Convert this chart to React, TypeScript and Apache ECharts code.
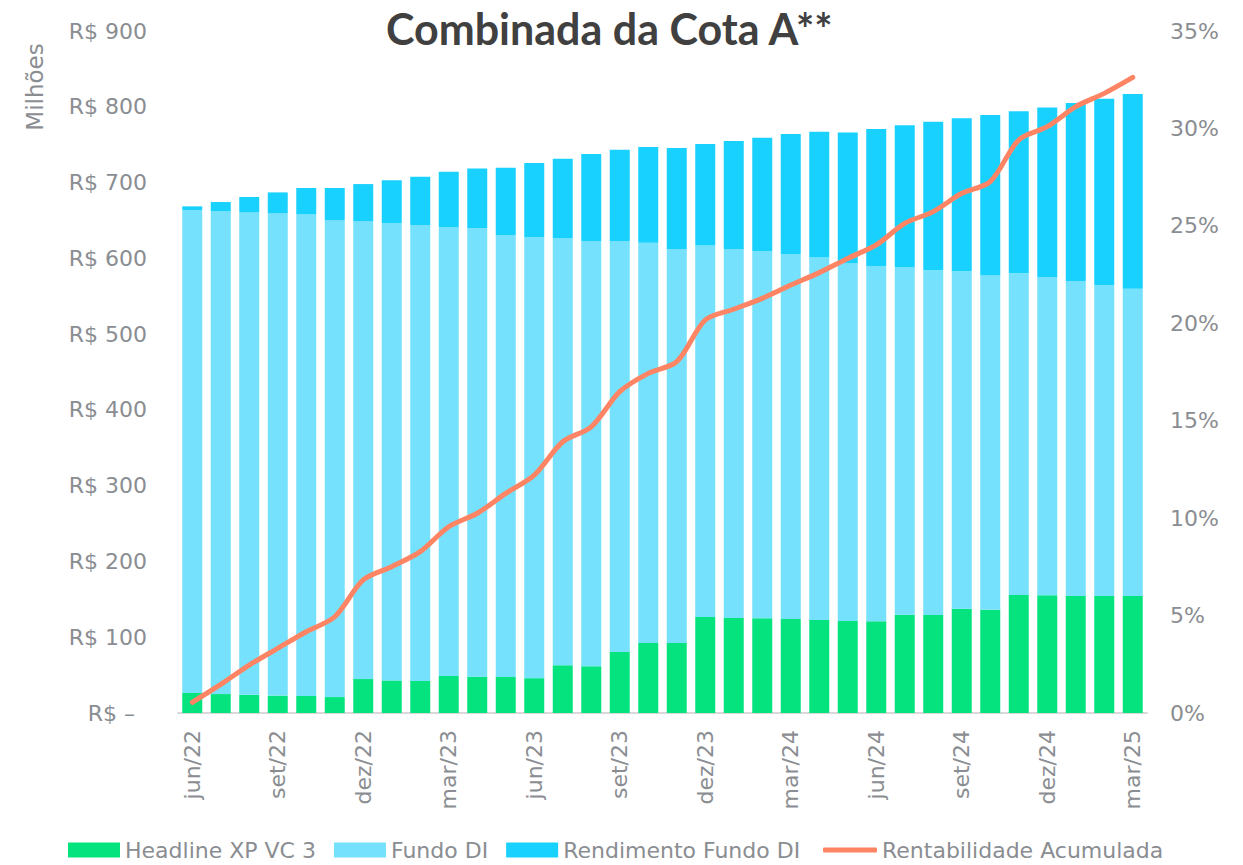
import React, { useEffect, useRef } from "react";
import * as echarts from "echarts";

const categories = [
  "jun/22", "jul/22", "ago/22", "set/22", "out/22", "nov/22", "dez/22",
  "jan/23", "fev/23", "mar/23", "abr/23", "mai/23", "jun/23", "jul/23", "ago/23", "set/23", "out/23", "nov/23", "dez/23",
  "jan/24", "fev/24", "mar/24", "abr/24", "mai/24", "jun/24", "jul/24", "ago/24", "set/24", "out/24", "nov/24", "dez/24",
  "jan/25", "fev/25", "mar/25",
];

const headline = [
  26.4, 25, 24, 23, 22.4, 21, 44.8, 43, 42.2, 48.8, 48, 47.5, 46, 63, 61.6, 80.5, 92.4, 92.4,
  126.7, 125.4, 125, 124, 122.7, 121.4, 121, 129.7, 129.3, 137.6, 136.3, 155.7, 155.3, 154.4, 154.4, 154.4,
];

const fundoDI = [
  637.4, 637.4, 637, 636.7, 636, 629.5, 604.4, 603.6, 601.8, 592.5, 591.6, 583.3, 581.7, 563.8, 561.3, 542.4,
  528.2, 519.9, 490.4, 486.9, 484.2, 481.7, 478.3, 472.4, 468.9, 458.8, 454.9, 445.2, 441.2, 424.5, 420, 415.6,
  410, 405.6,
];

const rendimentoDI = [
  4.8, 11.9, 20, 27.3, 34.4, 42.3, 48.8, 56.4, 63.7, 73, 79.1, 88.8, 98.1, 104.7, 114.8, 120.5, 126.3, 133.3,
  133.8, 142.5, 150, 158.3, 166, 172.4, 180.8, 187, 196.1, 201.9, 211.7, 213.8, 223.6, 235, 246.3, 256.9,
];

const rentabilidade = [
  0.55, 1.47, 2.46, 3.32, 4.17, 4.94, 6.83, 7.51, 8.28, 9.56, 10.25, 11.27, 12.21, 13.92, 14.69, 16.49, 17.43,
  18.03, 20.17, 20.72, 21.28, 21.96, 22.6, 23.33, 24.02, 25.13, 25.73, 26.67, 27.27, 29.41, 30.09, 31.12, 31.8,
  32.62,
];

const GRAY = "#8a8d91";
const FONT = "DejaVu Sans";
const FS = 22;

export default function App() {
  const ref = useRef<HTMLDivElement>(null);
  useEffect(() => {
    if (!ref.current) return;
    const chart = echarts.init(ref.current, undefined, { renderer: "svg" });
    const legendText = { fontFamily: FONT, fontSize: FS, color: GRAY };
    chart.setOption({
      animation: false,
      backgroundColor: "#ffffff",
      textStyle: { fontFamily: FONT },
      title: {
        text: "Combinada da Cota A**",
        left: 386,
        top: 7,
        padding: 0,
        textStyle: { fontFamily: "Lato", fontWeight: "bold", fontSize: 43, color: "#404040" },
      },
      graphic: [
        {
          type: "text",
          x: 35,
          y: 87,
          rotation: Math.PI / 2,
          style: {
            text: "Milhões",
            fontFamily: FONT,
            fontSize: 23,
            fill: GRAY,
            align: "center",
            verticalAlign: "middle",
          },
        },
      ],
      legend: [
        {
          left: 63,
          top: 834,
          itemWidth: 52,
          itemHeight: 15,
          itemGap: 18,
          textStyle: legendText,
          data: [
            { name: "Headline XP VC 3", icon: "rect" },
            { name: "Fundo DI", icon: "rect" },
            { name: "Rendimento Fundo DI", icon: "rect" },
          ],
        },
        {
          left: 818,
          top: 834,
          itemWidth: 54,
          itemHeight: 5,
          textStyle: legendText,
          data: [{ name: "Rentabilidade Acumulada", icon: "roundRect" }],
        },
      ],
      grid: { left: 178, right: 96, top: 31, bottom: 152, containLabel: false },
      xAxis: {
        type: "category",
        data: categories,
        axisLine: { lineStyle: { color: "#d9d9d9", width: 2 } },
        axisTick: { show: false },
        axisLabel: {
          interval: 2,
          rotate: 90,
          margin: 17,
          fontFamily: FONT,
          fontSize: FS,
          color: GRAY,
        },
      },
      yAxis: [
        {
          type: "value",
          min: 0,
          max: 900,
          interval: 100,
          splitLine: { show: false },
          axisLine: { show: false },
          axisTick: { show: false },
          axisLabel: {
            margin: 31,
            fontFamily: FONT,
            fontSize: FS,
            color: GRAY,
            formatter: (v: number) => (v === 0 ? "{z|R$ –}" : "R$ " + v),
            rich: { z: { fontFamily: FONT, fontSize: FS, color: GRAY, padding: [0, 12, 0, 0] } },
          },
        },
        {
          type: "value",
          min: 0,
          max: 35,
          interval: 5,
          splitLine: { show: false },
          axisLine: { show: false },
          axisTick: { show: false },
          axisLabel: {
            margin: 23,
            fontFamily: FONT,
            fontSize: FS,
            color: GRAY,
            formatter: (v: number) => v + "%",
          },
        },
      ],
      series: [
        {
          name: "Headline XP VC 3",
          type: "bar",
          stack: "total",
          barWidth: 20,
          data: headline,
          itemStyle: { color: "#05e37f" },
        },
        {
          name: "Fundo DI",
          type: "bar",
          stack: "total",
          barWidth: 20,
          data: fundoDI,
          itemStyle: { color: "#75e1fd" },
        },
        {
          name: "Rendimento Fundo DI",
          type: "bar",
          stack: "total",
          barWidth: 20,
          data: rendimentoDI,
          itemStyle: { color: "#19d1ff" },
        },
        {
          name: "Rentabilidade Acumulada",
          type: "line",
          yAxisIndex: 1,
          data: rentabilidade,
          smooth: 0.3,
          symbol: "none",
          z: 10,
          lineStyle: { color: "#ff8464", width: 5, cap: "round" },
          itemStyle: { color: "#ff8464" },
        },
      ],
    });
    return () => chart.dispose();
  }, []);
  return (
    <div
      ref={ref}
      style={{ position: "fixed", left: 0, top: 0, width: 1243, height: 865 }}
    />
  );
}
